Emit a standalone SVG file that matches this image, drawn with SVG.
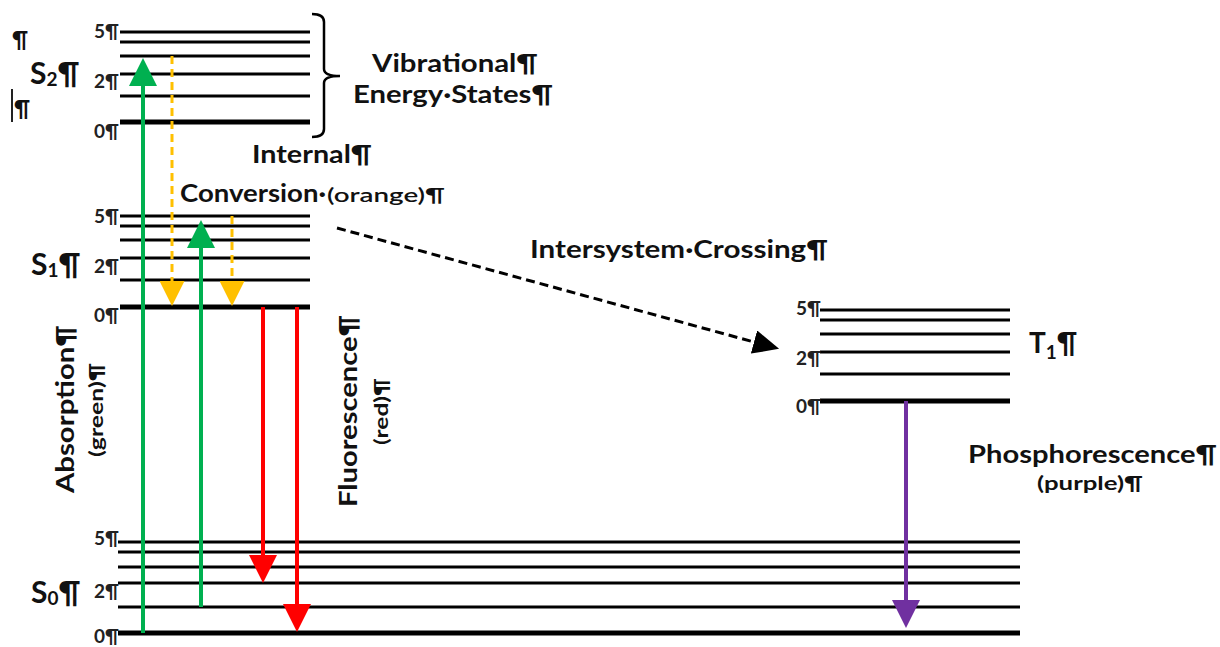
<svg xmlns="http://www.w3.org/2000/svg" width="1220" height="647" viewBox="0 0 1220 647">
<style>
text{font-family:Lato,"Open Sans","Liberation Sans",sans-serif;fill:#111}
.lbl{font-size:24px;font-weight:bold}
.sm{font-size:19px;font-weight:bold}
.num{font-size:19px;font-weight:bold;fill:#222;text-anchor:end}
.st{font-size:30px;font-weight:bold}
.sub{font-size:19px;font-weight:bold}
.lv{stroke:#000;stroke-width:3;fill:none}
.lv0{stroke:#000;stroke-width:5;fill:none}
</style>
<defs>
<marker id="hg" markerUnits="userSpaceOnUse" viewBox="0 0 28 28" refX="0" refY="14" markerWidth="28" markerHeight="28" orient="auto"><path d="M0,0 L28,14 L0,28 z" fill="#00B050"/></marker>
<marker id="ho" markerUnits="userSpaceOnUse" viewBox="0 0 25 25" refX="0" refY="12.5" markerWidth="25" markerHeight="25" orient="auto"><path d="M0,0 L25,12.5 L0,25 z" fill="#FFC000"/></marker>
<marker id="hr" markerUnits="userSpaceOnUse" viewBox="0 0 28 28" refX="0" refY="14" markerWidth="28" markerHeight="28" orient="auto"><path d="M0,0 L28,14 L0,28 z" fill="#FF0000"/></marker>
<marker id="hp" markerUnits="userSpaceOnUse" viewBox="0 0 28 28" refX="0" refY="14" markerWidth="28" markerHeight="28" orient="auto"><path d="M0,0 L28,14 L0,28 z" fill="#7030A0"/></marker>
<marker id="hk" markerUnits="userSpaceOnUse" viewBox="0 0 26 24" refX="0" refY="12" markerWidth="26" markerHeight="24" orient="auto"><path d="M0,0 L26,12 L0,24 z" fill="#000"/></marker>
</defs>

<g id="S2">
<path class="lv" d="M120,32H310M120,42H310M120,56H310M120,74H310M120,96H310"/>
<path class="lv0" d="M120,122H310"/>
<text class="num" x="119" y="38">5¶</text>
<text class="num" x="119" y="88">2¶</text>
<text class="num" x="119" y="138">0¶</text>
<text class="st" x="30" y="84">S<tspan class="sub" dy="2">2</tspan><tspan dy="-2">¶</tspan></text>
<text class="lbl" x="12" y="48" style="font-size:22px">¶</text>
<path d="M12,89V122" stroke="#222" stroke-width="2"/>
<text class="lbl" x="14" y="117" style="font-size:22px">¶</text>
</g>

<g id="bracket">
<path d="M312,14 Q324,14 324,22 V69 Q324,76 340,76 Q324,76 324,83 V129 Q324,137 312,137" fill="none" stroke="#000" stroke-width="2.5"/>
<text class="lbl" x="372" y="72" textLength="166" lengthAdjust="spacingAndGlyphs">Vibrational¶</text>
<text class="lbl" x="353" y="103" textLength="200" lengthAdjust="spacingAndGlyphs">Energy·States¶</text>
</g>

<g id="S1">
<path class="lv" d="M120,216H310M120,226H310M120,240H310M120,258H310M120,280H310"/>
<path class="lv0" d="M120,307H310"/>
<text class="num" x="119" y="223">5¶</text>
<text class="num" x="119" y="273">2¶</text>
<text class="num" x="119" y="322">0¶</text>
<text class="st" x="31" y="275">S<tspan class="sub" dy="2">1</tspan><tspan dy="-2">¶</tspan></text>
</g>

<g id="S0">
<path class="lv" d="M118,542H1020M118,552H1020M118,567H1020M118,583H1020M118,607H1020"/>
<path class="lv0" d="M118,633H1020"/>
<text class="num" x="119" y="545">5¶</text>
<text class="num" x="119" y="598">2¶</text>
<text class="num" x="119" y="643">0¶</text>
<text class="st" x="31" y="603">S<tspan class="sub" dy="2">0</tspan><tspan dy="-2">¶</tspan></text>
</g>

<g id="T1">
<path class="lv" d="M820,310H1010M820,320H1010M820,334H1010M820,352H1010M820,374H1010"/>
<path class="lv0" d="M820,401H1010"/>
<text class="num" x="821" y="315">5¶</text>
<text class="num" x="821" y="365">2¶</text>
<text class="num" x="821" y="413">0¶</text>
<text class="st" x="1029" y="353" style="font-size:28px">T<tspan class="sub" dy="6">1</tspan><tspan dy="-6">¶</tspan></text>
</g>

<g id="labels">
<text class="lbl" x="252" y="163" textLength="120" lengthAdjust="spacingAndGlyphs">Internal¶</text>
<text class="lbl" x="180" y="202"><tspan textLength="146" lengthAdjust="spacingAndGlyphs">Conversion·</tspan><tspan x="327" style="font-size:19px;font-weight:600" textLength="118" lengthAdjust="spacingAndGlyphs">(orange)¶</tspan></text>
<text class="lbl" x="530" y="258" textLength="298" lengthAdjust="spacingAndGlyphs">Intersystem·Crossing¶</text>
<text class="lbl" x="968" y="463" textLength="249" lengthAdjust="spacingAndGlyphs">Phosphorescence¶</text>
<text class="sm" x="1037" y="490" textLength="106" lengthAdjust="spacingAndGlyphs">(purple)¶</text>
<text class="lbl" transform="translate(74,493) rotate(-90)" textLength="168" lengthAdjust="spacingAndGlyphs">Absorption¶</text>
<text class="sm" transform="translate(103,457) rotate(-90)" textLength="94" lengthAdjust="spacingAndGlyphs">(green)¶</text>
<text class="lbl" transform="translate(357,507) rotate(-90)" textLength="192" lengthAdjust="spacingAndGlyphs">Fluorescence¶</text>
<text class="sm" transform="translate(388,445) rotate(-90)" textLength="67" lengthAdjust="spacingAndGlyphs">(red)¶</text>
</g>

<g id="connectors">
<line x1="143" y1="633" x2="143" y2="86" stroke="#00B050" stroke-width="4" marker-end="url(#hg)"/>
<line x1="201" y1="607" x2="201" y2="248" stroke="#00B050" stroke-width="4" marker-end="url(#hg)"/>
<line x1="172" y1="56" x2="172" y2="281" stroke="#FFC000" stroke-width="3" stroke-dasharray="8,5" marker-end="url(#ho)"/>
<line x1="232" y1="216" x2="232" y2="281" stroke="#FFC000" stroke-width="3" stroke-dasharray="8,5" marker-end="url(#ho)"/>
<line x1="263" y1="307" x2="263" y2="555" stroke="#FF0000" stroke-width="4" marker-end="url(#hr)"/>
<line x1="297" y1="307" x2="297" y2="604" stroke="#FF0000" stroke-width="4" marker-end="url(#hr)"/>
<line x1="906" y1="401" x2="906" y2="600" stroke="#7030A0" stroke-width="4" marker-end="url(#hp)"/>
<line x1="337" y1="228" x2="754" y2="342" stroke="#000" stroke-width="3" stroke-dasharray="9,5" marker-end="url(#hk)"/>
</g>
</svg>
